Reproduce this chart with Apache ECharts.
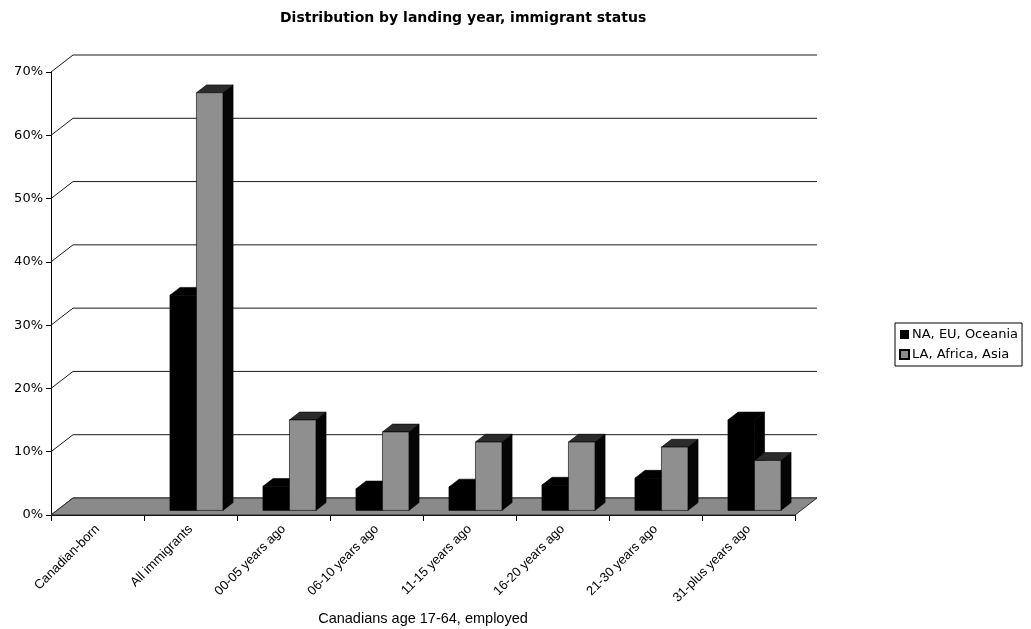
<!DOCTYPE html>
<html>
<head>
<meta charset="utf-8">
<title>Distribution by landing year, immigrant status</title>
<script src="https://cdn.jsdelivr.net/npm/echarts@6/dist/echarts.min.js"></script>
<style>
  html, body { margin: 0; padding: 0; background: #fff; }
  #chart { width: 1031px; height: 629px; }
</style>
</head>
<body>
<div id="chart"></div>
<script>
// Categories along the floor of the chart
const categories = [
  'Canadian-born', 'All immigrants', '00-05 years ago', '06-10 years ago',
  '11-15 years ago', '16-20 years ago', '21-30 years ago', '31-plus years ago'
];
// Share of employed Canadians aged 17-64 (%)
const naEuOceania = [0, 34, 3.8, 3.4, 3.7, 4.0, 5.1, 14.3];
const laAfricaAsia = [0, 66, 14.3, 12.4, 10.8, 10.8, 10.0, 7.9];
// Value axis ticks (%)
const yTicks = [0, 10, 20, 30, 40, 50, 60, 70];

const seriesNames = ['NA, EU, Oceania', 'LA, Africa, Asia'];

// Oblique depth of the chart box and where the bars sit inside it
const DEPTH_X = 22, DEPTH_Y = 17;
const BAR_FRONT = 0.27, BAR_BACK = 0.73;
const BAR_SHARE = 0.285; // width of one bar as share of a category band

const FONT = '"Liberation Sans", Arial, sans-serif';
const WIDE_FONT = '"DejaVu Sans", Verdana, sans-serif';

function wallItem(params, api) {
  const cs = params.coordSys;
  const p = api.coord([0, api.value(0)]);
  const left = cs.x, right = cs.x + cs.width;
  return {
    type: 'polyline',
    shape: { points: [[left, p[1]], [left + DEPTH_X, p[1] - DEPTH_Y], [right + DEPTH_X, p[1] - DEPTH_Y]] },
    style: { stroke: '#1a1a1a', lineWidth: 1, fill: null }
  };
}

function floorItem(params, api) {
  const cs = params.coordSys;
  const y0 = api.coord([0, 0])[1];
  const left = cs.x, right = cs.x + cs.width;
  return {
    type: 'polygon',
    shape: { points: [[left, y0], [right, y0], [right + DEPTH_X, y0 - DEPTH_Y], [left + DEPTH_X, y0 - DEPTH_Y]] },
    style: { fill: '#8a8a8a', stroke: '#2a2a2a', lineWidth: 1 }
  };
}

function makeBarItem(slot, frontColor, topColor, sideColor) {
  return function (params, api) {
    const cat = api.value(0), v = api.value(1);
    if (!(v > 0)) return null;
    const band = api.size([1, 0])[0];
    const w = band * BAR_SHARE;
    const top = api.coord([cat, v]);
    const base = api.coord([cat, 0]);
    const sx = DEPTH_X * BAR_FRONT, sy = DEPTH_Y * BAR_FRONT;
    const bx = DEPTH_X * (BAR_BACK - BAR_FRONT), by = DEPTH_Y * (BAR_BACK - BAR_FRONT);
    const x0 = top[0] - w + slot * w + sx;
    const yT = top[1] - sy, yB = base[1] - sy;
    return {
      type: 'group',
      children: [
        { type: 'polygon', shape: { points: [[x0 + w, yT], [x0 + w + bx, yT - by], [x0 + w + bx, yB - by], [x0 + w, yB]] },
          style: { fill: sideColor, stroke: '#000', lineWidth: 0.6 } },
        { type: 'polygon', shape: { points: [[x0, yT], [x0 + bx, yT - by], [x0 + w + bx, yT - by], [x0 + w, yT]] },
          style: { fill: topColor, stroke: '#000', lineWidth: 0.6 } },
        { type: 'rect', shape: { x: x0, y: yT, width: w, height: yB - yT },
          style: { fill: frontColor, stroke: '#000', lineWidth: 0.6 } }
      ]
    };
  };
}

const chart = echarts.init(document.getElementById('chart'), null, { renderer: 'canvas' });

chart.setOption({
  animation: false,
  backgroundColor: '#fff',
  textStyle: { fontFamily: FONT, color: '#000' },
  title: {
    text: 'Distribution by landing year, immigrant status',
    left: 275, top: 6,
    textStyle: { fontFamily: WIDE_FONT, fontSize: 14, fontWeight: 'bold', color: '#000' }
  },
  legend: {
    data: seriesNames,
    orient: 'vertical',
    left: 895, top: 323,
    icon: 'rect',
    itemWidth: 9, itemHeight: 9, itemGap: 7,
    padding: [5, 4, 5, 4],
    borderColor: '#000', borderWidth: 1,
    textStyle: { fontFamily: WIDE_FONT, fontSize: 13, color: '#000', padding: [0, 0, 0, -2] },
    selectedMode: false
  },
  grid: { left: 51, right: 236, top: 72, bottom: 114, containLabel: false, outerBoundsMode: 'none' },
  xAxis: {
    type: 'category',
    data: categories,
    boundaryGap: true,
    name: 'Canadians age 17-64, employed',
    nameLocation: 'middle',
    nameGap: 93,
    nameTextStyle: { fontFamily: FONT, fontSize: 14.5, color: '#000' },
    axisLine: { show: true, lineStyle: { color: '#000', width: 1 } },
    axisTick: { show: true, length: 6, interval: 0, lineStyle: { color: '#000' } },
    axisLabel: { rotate: 45, interval: 0, margin: 12, fontSize: 13, fontFamily: FONT, color: '#000' },
    splitLine: { show: false }
  },
  yAxis: {
    type: 'value',
    min: 0, max: 70, interval: 10,
    axisLine: { show: true, lineStyle: { color: '#000', width: 1 } },
    axisTick: { show: true, length: 5, lineStyle: { color: '#000' } },
    axisLabel: { formatter: '{value}%', fontSize: 13, fontFamily: WIDE_FONT, color: '#000', margin: 8 },
    splitLine: { show: false }
  },
  series: [
    {
      type: 'custom', name: 'walls', z: 1, silent: true,
      data: yTicks.map(t => [t]),
      renderItem: wallItem
    },
    {
      type: 'custom', name: 'floor', z: 2, silent: true,
      data: [[0]],
      renderItem: floorItem
    },
    {
      type: 'custom', name: seriesNames[0], z: 3,
      itemStyle: { color: '#000' },
      encode: { x: 0, y: 1 },
      data: naEuOceania.map((v, i) => [i, v]),
      renderItem: makeBarItem(0, '#000', '#000', '#000')
    },
    {
      type: 'custom', name: seriesNames[1], z: 4,
      itemStyle: { color: '#8c8c8c', borderColor: '#000', borderWidth: 1 },
      encode: { x: 0, y: 1 },
      data: laAfricaAsia.map((v, i) => [i, v]),
      renderItem: makeBarItem(1, '#8f8f8f', '#2b2b2b', '#050505')
    }
  ]
});
</script>
</body>
</html>
